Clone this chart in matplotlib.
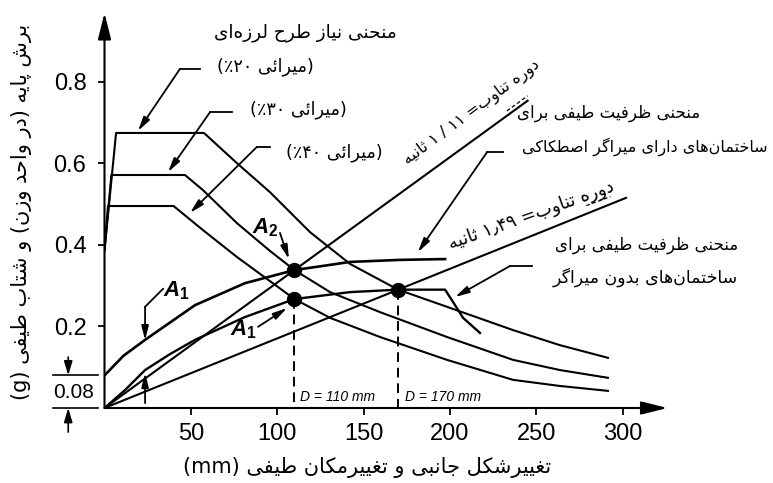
import re
import matplotlib
matplotlib.use('Agg')
import matplotlib.pyplot as plt

# ---------------- data (mm, g) ----------------
dem20_x = [0, 6.7, 57.6, 76.7, 95.8, 119.0, 142.2, 170.0, 198.3, 236.5, 263.7, 291.5]
dem20_y = [0.387, 0.674, 0.674, 0.600, 0.529, 0.431, 0.353, 0.290, 0.248, 0.191, 0.154, 0.123]

dem30_x = [0, 4.0, 46.6, 57.0, 76.7, 95.8, 110.0, 130.6, 159.5, 198.3, 236.5, 263.7, 291.5]
dem30_y = [0.387, 0.571, 0.571, 0.534, 0.453, 0.385, 0.338, 0.284, 0.235, 0.174, 0.118, 0.093, 0.074]

dem40_x = [0, 2.0, 40.0, 57.0, 76.7, 95.8, 110.0, 130.6, 159.5, 198.3, 236.5, 263.7, 291.5]
dem40_y = [0.387, 0.495, 0.495, 0.436, 0.370, 0.311, 0.267, 0.221, 0.174, 0.118, 0.069, 0.054, 0.042]

cap_nodamp_x = [0, 11.9, 23.5, 37.9, 52.4, 81.4, 110.0, 142.2, 170.0, 197.2, 201.8, 207.6, 217.4]
cap_nodamp_y = [0, 0.044, 0.093, 0.132, 0.167, 0.223, 0.267, 0.284, 0.290, 0.290, 0.260, 0.221, 0.184]

cap_fric_x = [0, 11.0, 23.5, 52.4, 81.4, 110.0, 142.2, 171.3, 197.2]
cap_fric_y = [0.08, 0.128, 0.167, 0.252, 0.306, 0.338, 0.358, 0.363, 0.365]

t111_x = [0, 245]
t111_y = [0, 0.753]
t149_x = [0, 302]
t149_y = [0, 0.515]

perf_x = [110, 110, 170]
perf_y = [0.338, 0.267, 0.290]

xticks = [50, 100, 150, 200, 250, 300]
yticks = [0.2, 0.4, 0.6, 0.8]
ytick_labels = ['0.2', '0.4', '0.6', '0.8']

# ---------------- Persian shaping helper ----------------
FORMS = {
    '\u0627': ('\uFE8D', '\uFE8E', None, None),
    '\u0622': ('\uFE81', '\uFE82', None, None),
    '\u0628': ('\uFE8F', '\uFE90', '\uFE91', '\uFE92'),
    '\u067E': ('\uFB56', '\uFB57', '\uFB58', '\uFB59'),
    '\u062A': ('\uFE95', '\uFE96', '\uFE97', '\uFE98'),
    '\u062B': ('\uFE99', '\uFE9A', '\uFE9B', '\uFE9C'),
    '\u062C': ('\uFE9D', '\uFE9E', '\uFE9F', '\uFEA0'),
    '\u062D': ('\uFEA1', '\uFEA2', '\uFEA3', '\uFEA4'),
    '\u062E': ('\uFEA5', '\uFEA6', '\uFEA7', '\uFEA8'),
    '\u062F': ('\uFEA9', '\uFEAA', None, None),
    '\u0630': ('\uFEAB', '\uFEAC', None, None),
    '\u0631': ('\uFEAD', '\uFEAE', None, None),
    '\u0632': ('\uFEAF', '\uFEB0', None, None),
    '\u0698': ('\uFB8A', '\uFB8B', None, None),
    '\u0633': ('\uFEB1', '\uFEB2', '\uFEB3', '\uFEB4'),
    '\u0634': ('\uFEB5', '\uFEB6', '\uFEB7', '\uFEB8'),
    '\u0635': ('\uFEB9', '\uFEBA', '\uFEBB', '\uFEBC'),
    '\u0637': ('\uFEC1', '\uFEC2', '\uFEC3', '\uFEC4'),
    '\u0638': ('\uFEC5', '\uFEC6', '\uFEC7', '\uFEC8'),
    '\u0639': ('\uFEC9', '\uFECA', '\uFECB', '\uFECC'),
    '\u063A': ('\uFECD', '\uFECE', '\uFECF', '\uFED0'),
    '\u0641': ('\uFED1', '\uFED2', '\uFED3', '\uFED4'),
    '\u0642': ('\uFED5', '\uFED6', '\uFED7', '\uFED8'),
    '\u06A9': ('\uFB8E', '\uFB8F', '\uFB90', '\uFB91'),
    '\u06AF': ('\uFB92', '\uFB93', '\uFB94', '\uFB95'),
    '\u0644': ('\uFEDD', '\uFEDE', '\uFEDF', '\uFEE0'),
    '\u0645': ('\uFEE1', '\uFEE2', '\uFEE3', '\uFEE4'),
    '\u0646': ('\uFEE5', '\uFEE6', '\uFEE7', '\uFEE8'),
    '\u0648': ('\uFEED', '\uFEEE', None, None),
    '\u0647': ('\uFEE9', '\uFEEA', '\uFEEB', '\uFEEC'),
    '\u06CC': ('\uFBFC', '\uFBFD', '\uFBFE', '\uFBFF'),
    '\u0626': ('\uFE89', '\uFE8A', '\uFE8B', '\uFE8C'),
}


def fa(s):
    s = s.replace('\u064A', '\u06CC').replace('\u0643', '\u06A9')
    out = []
    n = len(s)
    for i, c in enumerate(s):
        if c not in FORMS:
            out.append(c)
            continue
        prev = s[i - 1] if i > 0 else ''
        nxt = s[i + 1] if i + 1 < n else ''
        pj = prev in FORMS and FORMS[prev][2] is not None
        nj = FORMS[c][2] is not None and nxt in FORMS
        f = FORMS[c]
        if pj and nj:
            out.append(f[3])
        elif pj:
            out.append(f[1])
        elif nj:
            out.append(f[2])
        else:
            out.append(f[0])
    t = ''.join(out).replace('\u200c', '')
    t = t[::-1]
    t = re.sub(r'[0-9A-Za-z\u06F0-\u06F9](?:[0-9A-Za-z\u06F0-\u06F9 /\u066B.,]*[0-9A-Za-z\u06F0-\u06F9])?',
               lambda m: m.group(0)[::-1], t)
    t = t.translate(str.maketrans('()', ')('))
    return t


FA = ['DejaVu Sans']
plt.rcParams['mathtext.fontset'] = 'custom'
plt.rcParams['mathtext.it'] = 'Liberation Sans:italic:bold'
plt.rcParams['mathtext.rm'] = 'Liberation Sans:bold'

# ---------------- figure ----------------
W, H = 773, 483
fig = plt.figure(figsize=(W / 100, H / 100), dpi=100)
ax = fig.add_axes([104.5 / W, 75 / H, (667.5 - 104.5) / W, (408 - 13) / H])
ax.set_xlim(0, 326)
ax.set_ylim(0, 0.968)
for sp in ax.spines.values():
    sp.set_visible(False)

lw = 1.5
k = 'black'
ax.plot(dem20_x, dem20_y, color=k, lw=lw, solid_joinstyle='round')
ax.plot(dem30_x, dem30_y, color=k, lw=lw, solid_joinstyle='round')
ax.plot(dem40_x, dem40_y, color=k, lw=lw, solid_joinstyle='round')
ax.plot(cap_nodamp_x, cap_nodamp_y, color=k, lw=lw + 0.2, solid_joinstyle='round')
ax.plot(cap_fric_x, cap_fric_y, color=k, lw=lw + 0.4, solid_joinstyle='round')
ax.plot(t111_x, t111_y, color=k, lw=lw)
ax.plot(t149_x, t149_y, color=k, lw=lw)

# dashed verticals
ax.plot([perf_x[1], perf_x[1]], [perf_y[1], 0], color=k, lw=1.4, dashes=(5, 3))
ax.plot([perf_x[2], perf_x[2]], [perf_y[2], 0], color=k, lw=1.4, dashes=(5, 3))
ax.plot(perf_x, perf_y, 'o', color=k, ms=10, zorder=5)

# axes arrows
arr = dict(arrowstyle='-|>,head_length=0.8,head_width=0.2', lw=1.5, color=k,
           mutation_scale=20, shrinkA=0, shrinkB=0)
ax.annotate('', xy=(326, 0), xytext=(0, 0), arrowprops=arr, annotation_clip=False)
ax.annotate('', xy=(0, 0.968), xytext=(0, 0), arrowprops=arr, annotation_clip=False)

ax.set_xticks(xticks)
ax.set_xticklabels([str(v) for v in xticks], fontfamily='Liberation Sans', fontsize=17)
ax.set_yticks(yticks)
ax.set_yticklabels(ytick_labels, fontfamily='Liberation Sans', fontsize=17)
ax.tick_params(axis='both', direction='out', length=5, width=1.3, color=k)
ax.tick_params(axis='x', pad=6)
ax.tick_params(axis='y', pad=8)

# 0.08 dimension
ax.text(-17.7, 0.037, '0.08', fontfamily='Liberation Sans', fontsize=15,
        ha='center', va='center', clip_on=False)
ax.plot([-30, -4], [0.08, 0.08], color=k, lw=1.2, clip_on=False)
ax.plot([-30, -4], [0, 0], color=k, lw=1.2, clip_on=False)
sm = dict(arrowstyle='-|>,head_length=0.6,head_width=0.18', lw=1.2, color=k,
          mutation_scale=14, shrinkA=0, shrinkB=0)
ax.annotate('', xy=(-21, 0.08), xytext=(-21, 0.125), arrowprops=sm, annotation_clip=False)
ax.annotate('', xy=(-21, 0.0), xytext=(-21, -0.059), arrowprops=sm, annotation_clip=False)

# leader arrows
ld = dict(arrowstyle='-|>,head_length=0.6,head_width=0.15', lw=1.3, color=k,
          mutation_scale=14, shrinkA=0, shrinkB=0)


def leader(hx0, hx1, hy, tip):
    ax.plot([hx0, hx1], [hy, hy], color=k, lw=1.3)
    ax.annotate('', xy=tip, xytext=(hx0, hy), arrowprops=ld)


leader(43.7, 55.3, 0.831, (19.4, 0.679))
leader(61.1, 73.8, 0.725, (36.8, 0.578))
leader(88.3, 95.8, 0.640, (49.5, 0.478))
leader(221.5, 230.8, 0.627, (181.5, 0.382))
leader(234.8, 247.5, 0.348, (203.0, 0.272))

# A labels
ax.text(93, 0.441, r'$A_2$', fontsize=16, ha='center', va='center')
ax.annotate('', xy=(106.8, 0.365), xytext=(101.6, 0.429), arrowprops=ld)
ax.text(41.4, 0.287, r'$A_1$', fontsize=16, ha='center', va='center')
ax.plot([33.9, 23.5], [0.292, 0.248], color=k, lw=1.3)
ax.annotate('', xy=(23.5, 0.166), xytext=(23.5, 0.248), arrowprops=ld)
ax.text(80.2, 0.191, r'$A_1$', fontsize=16, ha='center', va='center')
ax.annotate('', xy=(105.7, 0.245), xytext=(88.9, 0.199), arrowprops=ld)
ax.annotate('', xy=(23.5, 0.086), xytext=(23.5, 0.012), arrowprops=ld)

# D labels
ax.text(113.2, 0.027, 'D = 110 mm', fontfamily='Liberation Sans', style='italic',
        fontsize=10, ha='left', va='center')
ax.text(174.0, 0.027, 'D = 170 mm', fontfamily='Liberation Sans', style='italic',
        fontsize=10, ha='left', va='center')

# small dashes near period line ends
ax.plot([233, 245], [0.728, 0.765], color=k, lw=0.9, dashes=(3, 2))
ax.plot([279, 293], [0.496, 0.518], color=k, lw=0.9, dashes=(3, 2))

# Persian texts
ax.text(169.4, 0.919, fa('منحنی نیاز طرح لرزه\u200cای'), family=FA, fontsize=13.3,
        ha='right', va='center')
ax.text(93.0, 0.836, fa('(میرائی ۲۰٪)'), family=FA, fontsize=12.7, ha='center', va='center')
ax.text(112.0, 0.730, fa('(میرائی ۳۰٪)'), family=FA, fontsize=12.7, ha='center', va='center')
ax.text(132.9, 0.625, fa('(میرائی ۴۰٪)'), family=FA, fontsize=12.7, ha='center', va='center')

ax.text(292.1, 0.723, fa('منحنی ظرفیت طیفی برای'), family=FA, fontsize=12,
        ha='center', va='center', clip_on=False)
ax.text(313.0, 0.640, fa('ساختمان\u200cهای دارای میراگر اصطکاکی'), family=FA,
        fontsize=11.5, ha='center', va='center', clip_on=False)
ax.text(314.1, 0.400, fa('منحنی ظرفیت طیفی برای'), family=FA, fontsize=12,
        ha='center', va='center', clip_on=False)
ax.text(313.0, 0.321, fa('ساختمان\u200cهای بدون میراگر'), family=FA, fontsize=12.5,
        ha='center', va='center', clip_on=False)

ax.text(212.8, 0.725, fa('دوره تناوب= ۱ / ۱۱ ثانیه'), family=FA, fontsize=11.5,
        rotation=36.5, rotation_mode='anchor', ha='center', va='center')
ax.text(247.0, 0.473, fa('دوره تناوب= ۱٫۴۹ ثانیه'), family=FA, fontsize=13,
        rotation=19.5, rotation_mode='anchor', ha='center', va='center')

# axis labels
fig.text(22 / W, 1 - 212 / H, fa('برش پایه (در واحد وزن) و شتاب طیفی (g)'), family=FA,
         fontsize=15, rotation=90, ha='center', va='center')
fig.text(367 / W, 1 - 468 / H, fa('تغییرشکل جانبی و تغییرمکان طیفی (mm)'), family=FA,
         fontsize=15, ha='center', va='center')

fig.savefig('out.png', dpi=100, facecolor='white')
